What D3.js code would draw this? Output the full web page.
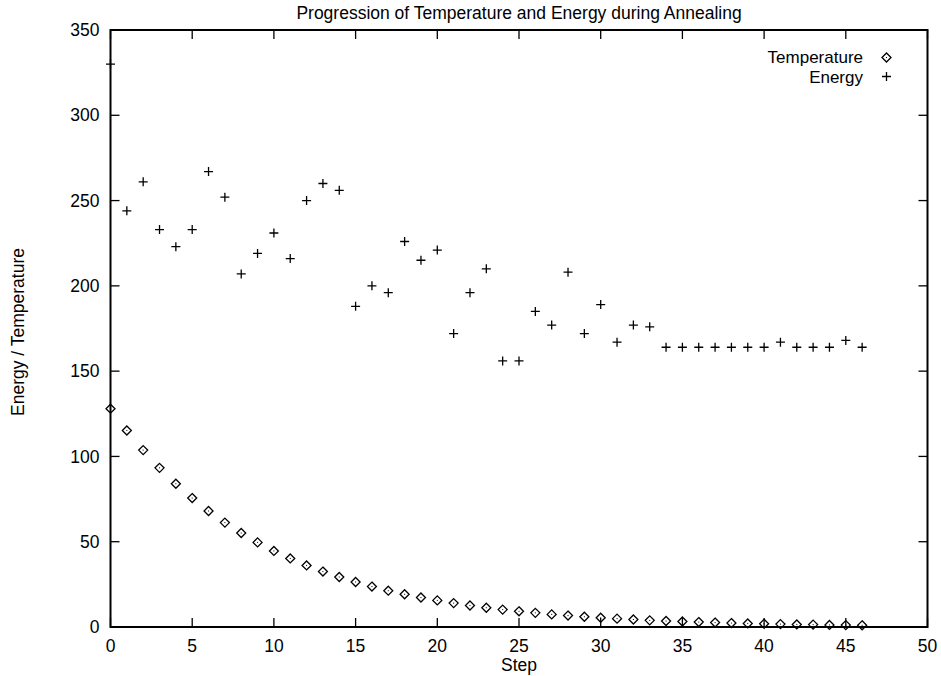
<!DOCTYPE html>
<html>
<head>
<meta charset="utf-8">
<script src="https://cdn.jsdelivr.net/npm/d3@7"></script>
<style>
  html, body { margin: 0; padding: 0; background: #fff; }
  svg text { font-family: "Liberation Sans", Arial, Helvetica, sans-serif; fill: #000; }
</style>
</head>
<body>
<svg id="chart" width="941" height="676"></svg>
<script>
const steps = [0,1,2,3,4,5,6,7,8,9,10,11,12,13,14,15,16,17,18,19,20,21,22,23,24,25,26,27,28,29,30,31,32,33,34,35,36,37,38,39,40,41,42,43,44,45,46];
const temperature = [128,115.2,103.7,93.3,84.0,75.6,68.0,61.2,55.1,49.6,44.6,40.2,36.1,32.5,29.3,26.4,23.7,21.3,19.2,17.3,15.6,14.0,12.6,11.3,10.2,9.2,8.3,7.4,6.7,6.0,5.4,4.9,4.4,3.9,3.5,3.2,2.9,2.6,2.3,2.1,1.9,1.7,1.5,1.4,1.2,1.1,1.0];
const energy = [330,244,261,233,223,233,267,252,207,219,231,216,250,260,256,188,200,196,226,215,221,172,196,210,156,156,185,177,208,172,189,167,177,176,164,164,164,164,164,164,164,167,164,164,164,168,164];
const xTicks = [0,5,10,15,20,25,30,35,40,45,50];
const yTicks = [0,50,100,150,200,250,300,350];
const titleText = "Progression of Temperature and Energy during Annealing";
const xLabel = "Step";
const yLabel = "Energy / Temperature";
const seriesNames = ["Temperature", "Energy"];

const svg = d3.select("#chart");
const L = 110.5, R = 927.5, T = 30, B = 627;
const x = d3.scaleLinear().domain([0, 50]).range([L, R]);
const y = d3.scaleLinear().domain([0, 350]).range([B, T]);
const tick = 9;
const fs = 17.5;

// Ticks (inward, mirrored)
const g = svg.append("g");
xTicks.forEach(v => {
  g.append("line").attr("x1", x(v)).attr("x2", x(v)).attr("y1", B).attr("y2", B - tick)
    .attr("stroke", "#000").attr("stroke-width", 1.3);
  g.append("line").attr("x1", x(v)).attr("x2", x(v)).attr("y1", T).attr("y2", T + tick)
    .attr("stroke", "#000").attr("stroke-width", 1.3);
  g.append("text").attr("x", x(v)).attr("y", B + 25).attr("text-anchor", "middle")
    .attr("font-size", fs).text(v);
});
yTicks.forEach(v => {
  g.append("line").attr("x1", L).attr("x2", L + tick).attr("y1", y(v)).attr("y2", y(v))
    .attr("stroke", "#000").attr("stroke-width", 1.3);
  g.append("line").attr("x1", R).attr("x2", R - tick).attr("y1", y(v)).attr("y2", y(v))
    .attr("stroke", "#000").attr("stroke-width", 1.3);
  g.append("text").attr("x", L - 11).attr("y", y(v)).attr("dy", "0.35em").attr("text-anchor", "end")
    .attr("font-size", fs).text(v);
});

// Border
svg.append("rect").attr("x", L).attr("y", T).attr("width", R - L).attr("height", B - T)
  .attr("fill", "none").attr("stroke", "#000").attr("stroke-width", 2);

// Title & labels
svg.append("text").attr("x", (L + R) / 2).attr("y", 19).attr("text-anchor", "middle")
  .attr("font-size", fs).text(titleText);
svg.append("text").attr("x", (L + R) / 2).attr("y", 671).attr("text-anchor", "middle")
  .attr("font-size", fs).text(xLabel);
svg.append("text").attr("transform", "translate(24,332) rotate(-90)").attr("text-anchor", "middle")
  .attr("font-size", fs).text(yLabel);

const ds = 4.5, ps = 4.5;
function diamond(sel, cx, cy) {
  sel.append("path")
    .attr("d", `M${cx},${cy - ds}L${cx + ds},${cy}L${cx},${cy + ds}L${cx - ds},${cy}Z`)
    .attr("fill", "none").attr("stroke", "#000").attr("stroke-width", 1.3);
  sel.append("rect").attr("x", cx - 0.5).attr("y", cy - 0.5).attr("width", 1).attr("height", 1).attr("fill", "#000");
}
function plus(sel, cx, cy) {
  sel.append("path")
    .attr("d", `M${cx - ps},${cy}H${cx + ps}M${cx},${cy - ps}V${cy + ps}`)
    .attr("fill", "none").attr("stroke", "#000").attr("stroke-width", 1.3);
}

const marks = svg.append("g");
steps.forEach((s, i) => diamond(marks, x(s), y(temperature[i])));
steps.forEach((s, i) => plus(marks, x(s), y(energy[i])));

// Legend
const lg = svg.append("g");
lg.append("text").attr("x", 863).attr("y", 57).attr("dy", "0.35em").attr("text-anchor", "end")
  .attr("font-size", 17).text(seriesNames[0]);
diamond(lg, 886.5, 57.5);
lg.append("text").attr("x", 863).attr("y", 77).attr("dy", "0.35em").attr("text-anchor", "end")
  .attr("font-size", 17).text(seriesNames[1]);
plus(lg, 886.5, 76.5);
</script>
</body>
</html>
